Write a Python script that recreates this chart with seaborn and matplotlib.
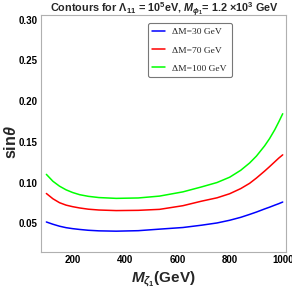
import matplotlib
matplotlib.use('Agg')
import matplotlib.pyplot as plt
from matplotlib.ticker import MultipleLocator
import seaborn as sns
import pandas as pd

# values
m_zeta = [100, 125, 150, 175, 200, 227, 260, 300, 366, 450, 531, 620, 690,
          750, 798, 840, 874, 900, 931, 950, 970, 985, 1000]
sin_30 = [0.0515, 0.0487, 0.0463, 0.0445, 0.0433, 0.0423, 0.0413, 0.0406, 0.0402,
          0.0408, 0.0427, 0.0447, 0.0475, 0.0503, 0.0536, 0.0572, 0.0608, 0.0637,
          0.0675, 0.0697, 0.0722, 0.0740, 0.0760]
sin_70 = [0.0865, 0.0800, 0.0752, 0.0722, 0.0703, 0.0687, 0.0672, 0.0662, 0.0655,
          0.0658, 0.0670, 0.0715, 0.0770, 0.0812, 0.0862, 0.0925, 0.0990, 0.1055,
          0.1140, 0.1195, 0.1255, 0.1300, 0.1340]
sin_100 = [0.1100, 0.1015, 0.0955, 0.0910, 0.0877, 0.0850, 0.0830, 0.0815, 0.0805,
           0.0810, 0.0833, 0.0885, 0.0945, 0.1000, 0.1065, 0.1150, 0.1240, 0.1325,
           0.1450, 0.1540, 0.1650, 0.1745, 0.1845]
labels = ['ΔM=30 GeV', 'ΔM=70 GeV', 'ΔM=100 GeV']
colors = ['#0000ff', '#ff0000', '#00ff00']

df = pd.concat([
    pd.DataFrame({'M': m_zeta, 'sin': s, 'dM': lab})
    for s, lab in zip([sin_30, sin_70, sin_100], labels)
])

sns.set_style('white')
plt.rcParams['font.family'] = ['Liberation Sans', 'DejaVu Sans']
plt.rcParams['mathtext.fontset'] = 'custom'
plt.rcParams['mathtext.it'] = 'Liberation Sans:italic:bold'
plt.rcParams['mathtext.rm'] = 'Liberation Sans:bold'
plt.rcParams['mathtext.bf'] = 'Liberation Sans:bold'

fig = plt.figure(figsize=(2.92, 2.97), dpi=100)
ax = fig.add_axes([0.139, 0.1515, 0.84, 0.7985])
sns.lineplot(data=df, x='M', y='sin', hue='dM', palette=colors, linewidth=1.1, ax=ax)

ax.set_xlim(78, 1012)
ax.set_ylim(0.0146, 0.306)
ax.xaxis.set_minor_locator(MultipleLocator(50))
ax.yaxis.set_minor_locator(MultipleLocator(0.01))
ax.set_xticks([200, 400, 600, 800, 1000])
ax.set_yticks([0.05, 0.10, 0.15, 0.20, 0.25, 0.30])
ax.set_yticklabels(['0.05', '0.10', '0.15', '0.20', '0.25', '0.30'])
ax.tick_params(which='both', direction='in', colors='#aaaaaa', labelcolor='black',
               labelsize=7, pad=2)
ax.tick_params(which='major', length=3, width=0.6)
ax.tick_params(which='minor', length=1.8, width=0.5)
for lab in ax.get_xticklabels() + ax.get_yticklabels():
    lab.set_fontweight('bold')
for sp in ax.spines.values():
    sp.set_color('#b0b0b0')
    sp.set_linewidth(0.8)

ax.set_xlabel(r'$M_{\zeta_1}$(GeV)', fontsize=11, fontweight='bold', labelpad=3)
ax.set_ylabel(r'sin$\theta$', fontsize=11.5, fontweight='bold')
ax.yaxis.set_label_coords(-0.09, 0.465)
fig.text(0.565, 0.968, r'Contours for $\Lambda_{11}$ = 10$^5$eV, $M_{\phi_1}$= 1.2 ×10$^3$ GeV',
         ha='center', va='center', fontsize=7.8, fontweight='bold')

leg = ax.legend(loc='upper left', bbox_to_anchor=(0.437, 0.965), frameon=True,
                prop={'family': 'Liberation Serif', 'size': 6.8}, handlelength=1.3,
                labelspacing=1.0, borderpad=0.5, borderaxespad=0, fancybox=True)
leg.get_frame().set_edgecolor('#555555')
leg.get_frame().set_linewidth(0.8)

fig.savefig('out.png', dpi=100)
